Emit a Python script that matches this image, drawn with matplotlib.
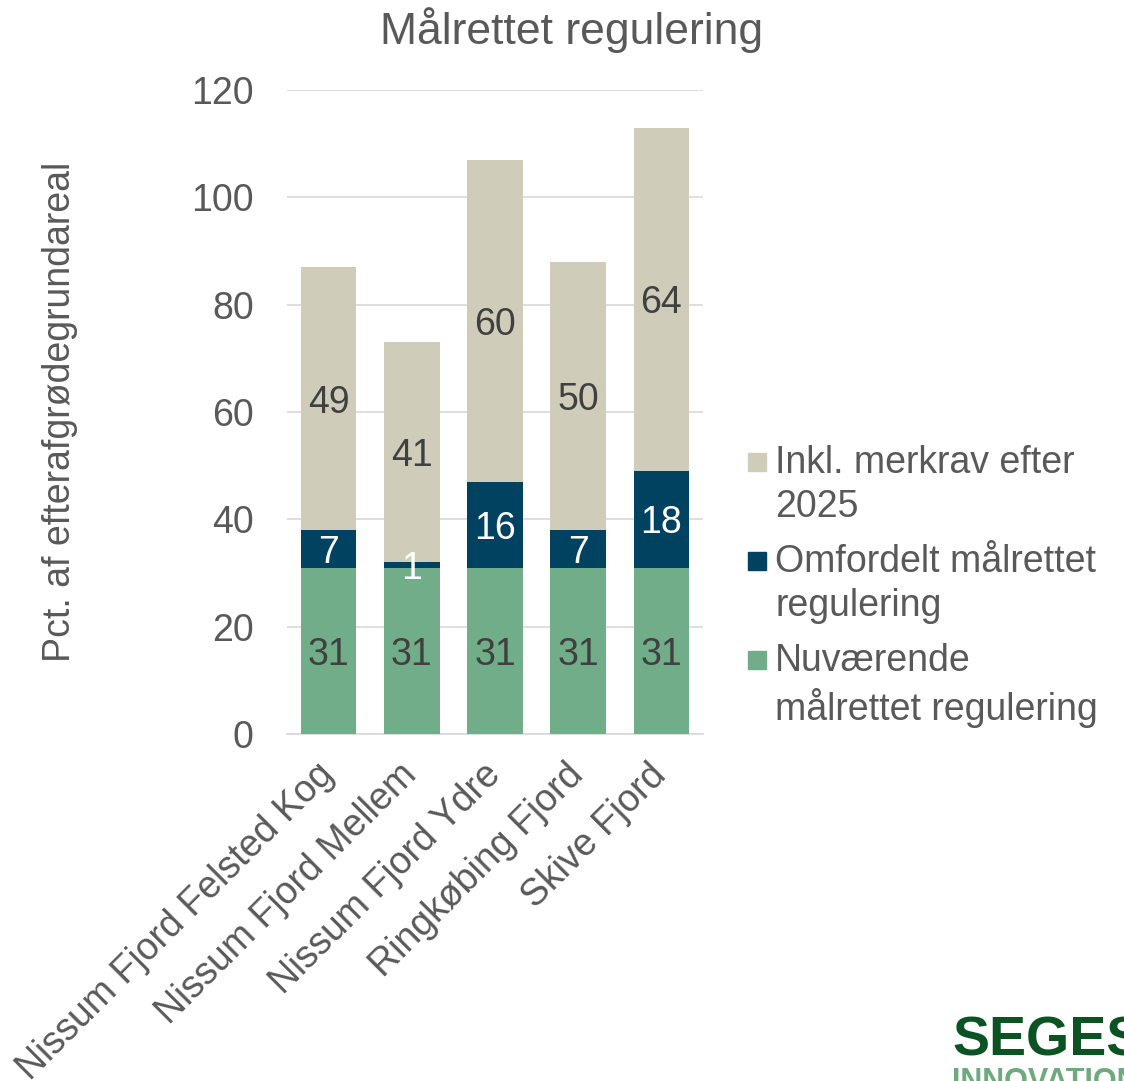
import matplotlib.pyplot as plt
from matplotlib.patches import Rectangle
from matplotlib.transforms import ScaledTranslation
import numpy as np

plt.rcParams['font.family'] = ['Liberation Sans', 'DejaVu Sans']

# Data
categories = ['Nissum Fjord Felsted Kog', 'Nissum Fjord Mellem', 'Nissum Fjord Ydre',
              'Ringkøbing Fjord', 'Skive Fjord']
nuvaerende = [31, 31, 31, 31, 31]
omfordelt = [7, 1, 16, 7, 18]
inkl = [49, 41, 60, 50, 64]
series_names = ['Nuværende\nmålrettet regulering', 'Omfordelt målrettet\nregulering',
                'Inkl. merkrav efter\n2025']

text_col = '#595959'
colors = ['#70AD88', '#00425F', '#CFCDBA']
label_cols = ['#404040', 'white', '#404040']

W, H = 1124, 1081
fig = plt.figure(figsize=(W / 100, H / 100), dpi=100)
ax = fig.add_axes([287 / W, 1 - 734 / H, 416 / W, 644 / H])

x = np.arange(len(categories))
bottom = np.zeros(len(categories))
for vals, col, lc, name in zip([nuvaerende, omfordelt, inkl], colors, label_cols, series_names):
    ax.bar(x, vals, width=0.67, bottom=bottom, color=col, label=name, zorder=3)
    for xi, v, b0 in zip(x, vals, bottom):
        ax.text(xi, b0 + v / 2, str(v), ha='center', va='center_baseline', fontsize=27,
                color=lc, zorder=4)
    bottom += np.array(vals)

ax.set_xlim(-0.5, 4.5)
ax.set_ylim(0, 120)
ax.set_yticks(range(0, 121, 20))
ax.yaxis.grid(True, color='#D9D9D9', linewidth=1.2, zorder=0)
ax.set_axisbelow(True)
for s in ['top', 'right', 'left']:
    ax.spines[s].set_visible(False)
ax.spines['bottom'].set_color('#D9D9D9')
ax.spines['bottom'].set_linewidth(1.2)
ax.tick_params(axis='both', length=0, labelsize=27, labelcolor=text_col)
ax.tick_params(axis='y', pad=24)
ax.set_xticks(x)
ax.set_xticklabels(categories, rotation=45, ha='right', rotation_mode='anchor')
ax.tick_params(axis='x', pad=20)
shift = ScaledTranslation(-0.13, 0.05, fig.dpi_scale_trans)
for lab in ax.get_xticklabels():
    lab.set_transform(lab.get_transform() + shift)

ax.set_ylabel('Pct. af efterafgrødegrundareal', fontsize=27, color=text_col)
ax.yaxis.set_label_coords((78 - 287) / 416, 0.5)
fig.text(572 / W, 1 - 30 / H, 'Målrettet regulering', ha='center', va='center',
         fontsize=32, color=text_col)

# Legend (top series first, handle aligned with first text line)
leg_y = [462, 561, 660]
for name, col, yy in zip(series_names[::-1], colors[::-1], leg_y):
    fig.patches.append(Rectangle((748 / W, 1 - (yy + 9) / H), 18 / W, 18 / H,
                                 transform=fig.transFigure, color=col))
    fig.text(775 / W, 1 - (yy - 17) / H, name, ha='left', va='top', fontsize=27,
             color=text_col, linespacing=1.27)

# Logo
fig.text(952 / W, 1 - 1055 / H, 'SEGES', fontsize=40, fontweight='bold', color='#0B5323',
         ha='left', va='baseline')
fig.text(952 / W, 1 - 1090 / H, 'INNOVATION', fontsize=22, fontweight='bold',
         color='#6FAA7E', ha='left', va='baseline')

fig.savefig('out.png', dpi=100)
